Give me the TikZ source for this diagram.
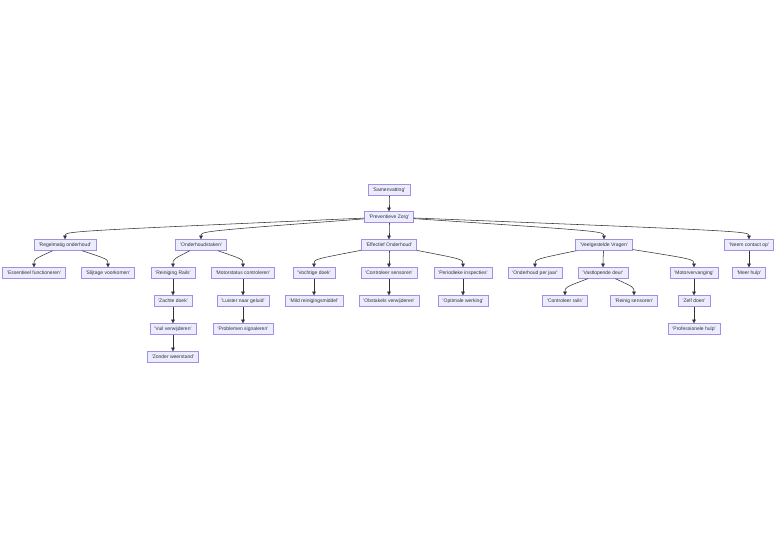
\documentclass[tikz,border=0pt]{standalone}
\usepackage{fontspec}
\setmainfont{Liberation Sans}
\usepackage{tikz}
\usetikzlibrary{arrows.meta}

\definecolor{boxfill}{HTML}{ECECFF}
\definecolor{boxline}{HTML}{A58FE6}
\definecolor{ink}{HTML}{333333}
\newcommand{\qt}[1]{\textquotesingle#1\textquotesingle}

\begin{document}
\begin{tikzpicture}[x=1pt,y=1pt,
  box/.style={draw=boxline, fill=boxfill, line width=0.45pt, text=ink,
    font=\fontsize{5}{6}\selectfont, inner xsep=4.5pt, inner ysep=0pt,
    minimum height=11pt},
  edge/.style={draw=ink, line width=0.55pt, -{Triangle[length=3.6pt,width=3.6pt]}}]

%set diagram size
\useasboundingbox (0,0) rectangle (784,547);

% Text Node
\node [box] (sam) at (389,357) {\qt{Samenvatting}};
% Text Node
\node [box] (pz) at (389,330) {\qt{Preventieve Zorg}};

% Text Node
\node [box] (ro) at (65,302) {\qt{Regelmatig onderhoud}};
% Text Node
\node [box] (ot) at (201,302) {\qt{Onderhoudstaken}};
% Text Node
\node [box] (eo) at (389,302) {\qt{Effectief Onderhoud}};
% Text Node
\node [box] (vv) at (604,302) {\qt{Veelgestelde Vragen}};
% Text Node
\node [box] (nc) at (749,302) {\qt{Neem contact op}};

% Text Node
\node [box] (ef) at (34,274) {\qt{Essentieel functioneren}};
% Text Node
\node [box] (sv) at (108,274) {\qt{Slijtage voorkomen}};
% Text Node
\node [box] (rr) at (173,274) {\qt{Reiniging Rails}};
% Text Node
\node [box] (mc) at (243,274) {\qt{Motorstatus controleren}};
% Text Node
\node [box] (vd) at (314,274) {\qt{Vochtige doek}};
% Text Node
\node [box] (cs) at (389,274) {\qt{Controleer sensoren}};
% Text Node
\node [box] (pi) at (463,274) {\qt{Periodieke inspecties}};
% Text Node
\node [box] (opj) at (535,274) {\qt{Onderhoud per jaar}};
% Text Node
\node [box] (vld) at (603,274) {\qt{Vastlopende deur}};
% Text Node
\node [box] (mv) at (694,274) {\qt{Motorvervanging}};
% Text Node
\node [box] (mh) at (749,274) {\qt{Meer hulp}};

% Text Node
\node [box] (zd) at (173,246) {\qt{Zachte doek}};
% Text Node
\node [box] (lg) at (243,246) {\qt{Luister naar geluid}};
% Text Node
\node [box] (mr) at (314,246) {\qt{Mild reinigingsmiddel}};
% Text Node
\node [box] (ov) at (389,246) {\qt{Obstakels verwijderen}};
% Text Node
\node [box] (ow) at (463,246) {\qt{Optimale werking}};
% Text Node
\node [box] (cr) at (565,246) {\qt{Controleer rails}};
% Text Node
\node [box] (rs) at (634,246) {\qt{Reinig sensoren}};
% Text Node
\node [box] (zdn) at (694,246) {\qt{Zelf doen}};

% Text Node
\node [box] (vw) at (173,218) {\qt{Vuil verwijderen}};
% Text Node
\node [box] (ps) at (243,218) {\qt{Problemen signaleren}};
% Text Node
\node [box] (ph) at (694,218) {\qt{Professionele hulp}};

% Text Node
\node [box] (zw) at (173,190) {\qt{Zonder weerstand}};

%Curves from the root
\draw [edge] (sam) .. controls ([yshift=8pt]pz.north) .. (pz.north);
\draw [edge] (pz) .. controls ([yshift=8pt]ro.north) .. (ro.north);
\draw [edge] (pz) .. controls ([yshift=8pt]ot.north) .. (ot.north);
\draw [edge] (pz) .. controls ([yshift=8pt]eo.north) .. (eo.north);
\draw [edge] (pz) .. controls ([yshift=8pt]vv.north) .. (vv.north);
\draw [edge] (pz) .. controls ([yshift=8pt]nc.north) .. (nc.north);

%Curves under Regelmatig onderhoud
\draw [edge] (ro) .. controls ([yshift=8pt]ef.north) .. (ef.north);
\draw [edge] (ro) .. controls ([yshift=8pt]sv.north) .. (sv.north);

%Curves under Onderhoudstaken
\draw [edge] (ot) .. controls ([yshift=8pt]rr.north) .. (rr.north);
\draw [edge] (ot) .. controls ([yshift=8pt]mc.north) .. (mc.north);
\draw [edge] (rr) -- (zd.north);
\draw [edge] (zd) -- (vw.north);
\draw [edge] (vw) -- (zw.north);
\draw [edge] (mc) -- (lg.north);
\draw [edge] (lg) -- (ps.north);

%Curves under Effectief Onderhoud
\draw [edge] (eo) .. controls ([yshift=8pt]vd.north) .. (vd.north);
\draw [edge] (eo) .. controls ([yshift=8pt]cs.north) .. (cs.north);
\draw [edge] (eo) .. controls ([yshift=8pt]pi.north) .. (pi.north);
\draw [edge] (vd) -- (mr.north);
\draw [edge] (cs) -- (ov.north);
\draw [edge] (pi) -- (ow.north);

%Curves under Veelgestelde Vragen
\draw [edge] (vv) .. controls ([yshift=8pt]opj.north) .. (opj.north);
\draw [edge] (vv) .. controls ([yshift=8pt]vld.north) .. (vld.north);
\draw [edge] (vv) .. controls ([yshift=8pt]mv.north) .. (mv.north);
\draw [edge] (vld) .. controls ([yshift=8pt]cr.north) .. (cr.north);
\draw [edge] (vld) .. controls ([yshift=8pt]rs.north) .. (rs.north);
\draw [edge] (mv) -- (zdn.north);
\draw [edge] (zdn) -- (ph.north);

%Curve under Neem contact op
\draw [edge] (nc) -- (mh.north);

\end{tikzpicture}
\end{document}
